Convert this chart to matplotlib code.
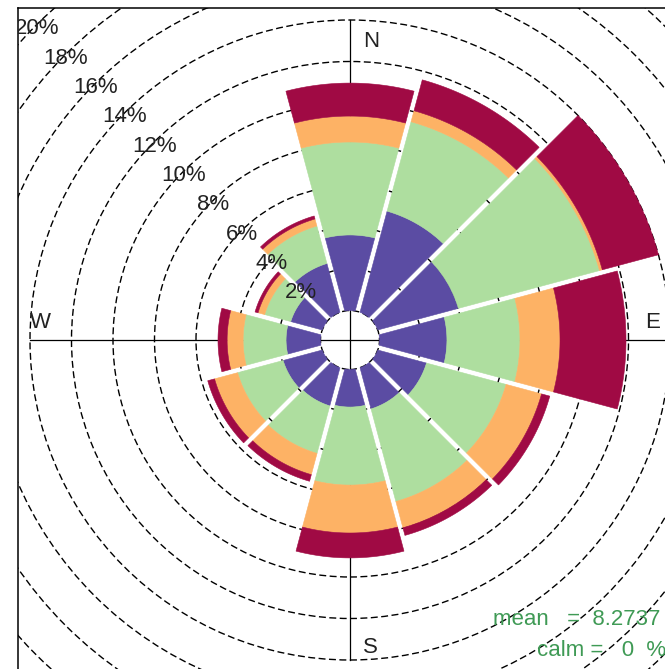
import numpy as np
import matplotlib.pyplot as plt
from matplotlib.patches import Polygon, Circle

plt.rcParams['font.family'] = ['Liberation Sans', 'DejaVu Sans']

# wind directions (deg) and frequency of each speed class, %
directions = [0, 30, 60, 90, 120, 150, 180, 210, 240, 270, 300, 330]
ws_0_2 = [3.64, 5.04, 4.02, 3.25, 2.43, 2.05, 1.81, 1.90, 1.95, 1.66, 1.57, 2.43]
ws_2_4 = [4.48, 4.46, 7.04, 3.52, 3.97, 4.62, 3.76, 2.37, 2.27, 2.07, 1.30, 1.87]
ws_4_6 = [1.25, 0.55, 0.14, 1.93, 1.77, 1.31, 2.31, 1.06, 1.15, 0.77, 0.33, 0.35]
ws_6_up = [1.59, 1.54, 2.80, 3.18, 0.41, 0.38, 1.20, 0.33, 0.34, 0.44, 0.15, 0.15]
colours = ['#5B4CA3', '#AEDE9F', '#FDB265', '#A00A44']

ring_levels = list(range(0, 22, 2))
mean_ws = 8.2737
calm = 0

W, H = 665, 669
CX, CY = 350, 340      # centre of the rose
OFFSET = 29.5          # radius of the empty middle
SCALE = 20.75          # px per 1 %
HALF = 15              # half width of a sector, deg
GAP = 2.5              # half of the white gap between sectors


def rad(p):
    return OFFSET + SCALE * np.asarray(p)


def sector(b, r1, r2):
    o1 = np.degrees(np.arcsin(GAP / r1))
    o2 = np.degrees(np.arcsin(GAP / r2))
    t_out = np.linspace(b - HALF + o2, b + HALF - o2, 40)
    t_in = np.linspace(b + HALF - o1, b - HALF + o1, 40)
    th = np.radians(np.r_[t_out, t_in])
    r = np.r_[np.full(40, r2), np.full(40, r1)]
    return np.column_stack([r * np.sin(th), r * np.cos(th)])


fig = plt.figure(figsize=(W / 100, H / 100), dpi=100)
ax = fig.add_axes([18 / W, 0, (W - 18) / W, (H - 8) / H])
ax.set_xlim(18 - CX, W - CX)
ax.set_ylim(CY - H, CY - 8)
ax.set_xticks([])
ax.set_yticks([])
for s in ['right', 'bottom']:
    ax.spines[s].set_visible(False)
for s in ['left', 'top']:
    ax.spines[s].set_linewidth(1.1)

# dashed rings
for p in ring_levels:
    ax.add_patch(Circle((0, 0), rad(p), fill=False, ec='black', lw=1.0,
                        ls=(0, (5, 2.5)), zorder=1))

# axis cross
rmax = rad(14)
ax.plot([-rmax, rmax], [0, 0], color='black', lw=0.9, zorder=1)
ax.plot([0, 0], [-rmax, rmax], color='black', lw=0.9, zorder=1)

# stacked sectors
bands = np.array([ws_0_2, ws_2_4, ws_4_6, ws_6_up])
cum = np.vstack([np.zeros(len(directions)), np.cumsum(bands, axis=0)])
for i, b in enumerate(directions):
    for k in range(len(colours)):
        xy = sector(b, rad(cum[k, i]), rad(cum[k + 1, i]))
        ax.add_patch(Polygon(xy, closed=True, fc=colours[k], ec=colours[k],
                             lw=0.4, zorder=2))

# ring labels along the NW diagonal
for p in ring_levels[1:]:
    r = rad(p)
    a = np.radians(315)
    ax.text(r * np.sin(a) + 1, r * np.cos(a) - 3, f'{p}%', ha='center', va='center',
            fontsize=16, color='#222222', zorder=5, clip_on=True)

# compass points
for lab, x, y in [('N', 13, 293), ('E', 295, 12), ('W', -320, 12), ('S', 13, -313)]:
    ax.text(x, y, lab, ha='left', va='baseline', fontsize=16, color='#222222',
            zorder=5)

ax.text(143, -285, f'mean   =  {mean_ws}', ha='left', va='baseline',
        fontsize=16, color='#3f9a55', zorder=5)
ax.text(187, -316, f'calm =   {calm}  %', ha='left', va='baseline',
        fontsize=16, color='#3f9a55', zorder=5)

fig.savefig('out.png', dpi=100)
